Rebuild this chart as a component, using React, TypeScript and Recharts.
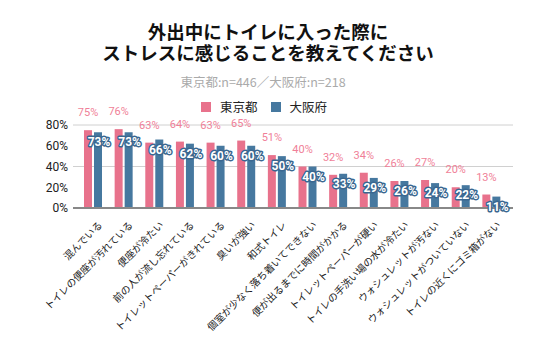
import { BarChart, Bar, XAxis, YAxis, CartesianGrid, LabelList } from "recharts";

const categories = [
  "混んでいる",
  "トイレの便座が汚れている",
  "便座が冷たい",
  "前の人が流し忘れている",
  "トイレットペーパーがきれている",
  "臭いが強い",
  "和式トイレ",
  "個室が少なく落ち着いてできない",
  "便が出るまでに時間がかかる",
  "トイレットペーパーが硬い",
  "トイレの手洗い場の水が冷たい",
  "ウォシュレットが汚ない",
  "ウォシュレットがついていない",
  "トイレの近くにゴミ箱がない",
];
const tokyo = [75, 76, 63, 64, 63, 65, 51, 40, 32, 34, 26, 27, 20, 13];
const osaka = [73, 73, 66, 62, 60, 60, 50, 40, 33, 29, 26, 24, 22, 11];
const yTicks = [0, 20, 40, 60, 80];
const titleLines = ["外出中にトイレに入った際に", "ストレスに感じることを教えてください"];

const data = categories.map((name, i) => ({ name, tokyo: tokyo[i], osaka: osaka[i] }));

const PINK = "#e8728c";
const BLUE = "#46789f";
const FONT = "Roboto, 'Noto Sans CJK JP', sans-serif";
const JP = "'Noto Sans CJK JP', sans-serif";

const XTick = (props: any) => {
  const { x, y, payload } = props;
  return (
    <text
      x={x + 4}
      y={y + 4}
      transform={`rotate(-45 ${x + 4} ${y + 4})`}
      textAnchor="end"
      dy={8}
      fontSize={10}
      fontFamily={JP}
      fill="#222"
    >
      {payload.value}
    </text>
  );
};

const TokyoLabel = (props: any) => {
  const { x, y, width, value } = props;
  return (
    <text x={x + width / 2} y={y - 14} textAnchor="middle" fontSize={11} fontFamily={FONT} fill="#f07f98">
      {value}%
    </text>
  );
};

const OsakaLabel = (props: any) => {
  const { x, y, width, value } = props;
  return (
    <text
      x={x + width / 2 + 1}
      y={y + 14}
      textAnchor="middle"
      fontSize={12}
      fontWeight="bold"
      fontFamily={FONT}
      fill="#fff"
      stroke="#3a6790"
      strokeWidth={3}
      paintOrder="stroke"
      strokeLinejoin="round"
    >
      {value}%
    </text>
  );
};

export default function App() {
  return (
    <div style={{ position: "absolute", left: 0, top: 0, width: 536, height: 353, background: "#fff", fontFamily: JP }}>
      {titleLines.map((t, i) => (
        <div
          key={t}
          style={{
            position: "absolute",
            top: 21 + i * 21,
            left: 0,
            width: 536,
            textAlign: "center",
            fontSize: 18.5,
            fontWeight: "bold",
            lineHeight: "21px",
            color: "#111",
          }}
        >
          {t}
        </div>
      ))}
      <div
        style={{
          position: "absolute",
          top: 73,
          left: 0,
          width: 526,
          textAlign: "center",
          fontSize: 12.5,
          color: "#aaa",
          lineHeight: "18px",
        }}
      >
        東京都:n=446／大阪府:n=218
      </div>
      <div
        style={{
          position: "absolute",
          top: 99,
          left: 201,
          display: "flex",
          alignItems: "center",
          fontSize: 12.5,
          color: "#222",
          lineHeight: "16px",
        }}
      >
        <span style={{ width: 10, height: 10, background: PINK, display: "inline-block", marginRight: 9 }} />
        <span style={{ marginRight: 13 }}>東京都</span>
        <span style={{ width: 10, height: 10, background: BLUE, display: "inline-block", marginRight: 9 }} />
        <span>大阪府</span>
      </div>
      <BarChart
        width={536}
        height={353}
        data={data}
        margin={{ top: 125, right: 23, left: 0, bottom: 0 }}
        barSize={8}
        barGap={2}
        style={{ position: "absolute", left: 0, top: 0 }}
      >
        <CartesianGrid vertical={false} stroke="#d0d0d0" />
        <YAxis
          width={73}
          domain={[0, 80]}
          ticks={yTicks}
          tickFormatter={(v) => `${v}%`}
          axisLine={false}
          tickLine={false}
          tickSize={0}
          tickMargin={5}
          tick={{ fontSize: 12, fill: "#222", fontFamily: FONT }}
        />
        <XAxis
          dataKey="name"
          height={145}
          interval={0}
          padding={{ left: 5, right: 6 }}
          axisLine={{ stroke: "#888", strokeWidth: 2 }}
          tickLine={false}
          tick={<XTick />}
        />
        <Bar dataKey="tokyo" fill={PINK} isAnimationActive={false}>
          <LabelList dataKey="tokyo" content={<TokyoLabel />} />
        </Bar>
        <Bar dataKey="osaka" fill={BLUE} isAnimationActive={false}>
          <LabelList dataKey="osaka" content={<OsakaLabel />} />
        </Bar>
      </BarChart>
    </div>
  );
}
